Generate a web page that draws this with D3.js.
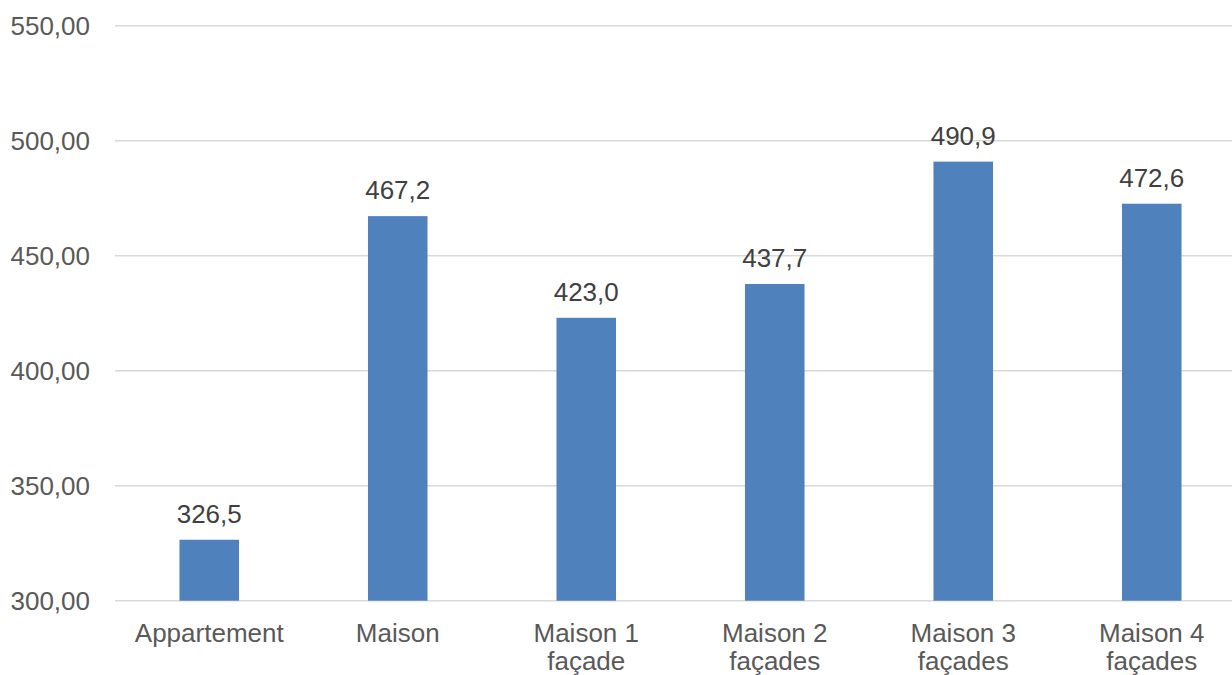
<!DOCTYPE html>
<html>
<head>
<meta charset="utf-8">
<script src="https://cdn.jsdelivr.net/npm/d3@7"></script>
<style>
  html, body { margin: 0; padding: 0; background: #fff; }
  svg { display: block; font-family: "Liberation Sans", Arial, sans-serif; }
</style>
</head>
<body>
<svg id="chart" width="1232" height="675"></svg>
<script>
// Catégories (une ligne par élément du tableau interne)
const categories = [
  ["Appartement"],
  ["Maison"],
  ["Maison 1", "façade"],
  ["Maison 2", "façades"],
  ["Maison 3", "façades"],
  ["Maison 4", "façades"]
];
const values = [326.5, 467.2, 423.0, 437.7, 490.9, 472.6];
const yTicks = [300, 350, 400, 450, 500, 550];

const svg = d3.select("#chart");
const margin = { left: 115, right: 1246, top: 25.7, bottom: 600.7 };
const fontSize = 26;

const x = d3.scaleBand()
  .domain(d3.range(categories.length))
  .range([margin.left, margin.right])
  .paddingInner(0.684)
  .paddingOuter(0.342);

const y = d3.scaleLinear()
  .domain([300, 550])
  .range([margin.bottom, margin.top]);

const fmtTick = v => d3.format(".2f")(v).replace(".", ",");
const fmtVal = v => d3.format(".1f")(v).replace(".", ",");

// Grille horizontale
svg.append("g")
  .selectAll("line")
  .data(yTicks)
  .join("line")
  .attr("x1", margin.left)
  .attr("x2", 1232)
  .attr("y1", d => y(d))
  .attr("y2", d => y(d))
  .attr("stroke", "#d9d9d9")
  .attr("stroke-width", 1.5);

// Axe Y (libellés seulement)
const yAxis = d3.axisLeft(y).tickValues(yTicks).tickFormat(fmtTick).tickSize(0).tickPadding(0);
const gy = svg.append("g")
  .attr("transform", `translate(${90},0)`)
  .call(yAxis);
gy.select(".domain").remove();
gy.selectAll("text")
  .attr("fill", "#595959")
  .attr("font-size", fontSize)
  .attr("font-family", "Liberation Sans, Arial, sans-serif");

// Barres
svg.append("g")
  .selectAll("rect")
  .data(values)
  .join("rect")
  .attr("x", (d, i) => x(i))
  .attr("width", x.bandwidth())
  .attr("y", d => y(d))
  .attr("height", d => y(300) - y(d))
  .attr("fill", "#4f81bd");

// Étiquettes de valeurs
svg.append("g")
  .selectAll("text")
  .data(values)
  .join("text")
  .attr("x", (d, i) => x(i) + x.bandwidth() / 2)
  .attr("y", d => y(d) - 17)
  .attr("text-anchor", "middle")
  .attr("fill", "#404040")
  .attr("font-size", fontSize)
  .text(d => fmtVal(d));

// Libellés des catégories
const cat = svg.append("g")
  .selectAll("text")
  .data(categories)
  .join("text")
  .attr("x", (d, i) => x(i) + x.bandwidth() / 2)
  .attr("y", 641.5)
  .attr("text-anchor", "middle")
  .attr("fill", "#595959")
  .attr("font-size", fontSize);
cat.selectAll("tspan")
  .data((d, i) => d.map(t => ({ t, i })))
  .join("tspan")
  .attr("x", d => x(d.i) + x.bandwidth() / 2)
  .attr("dy", (d, j) => j === 0 ? 0 : 28)
  .text(d => d.t);
</script>
</body>
</html>
